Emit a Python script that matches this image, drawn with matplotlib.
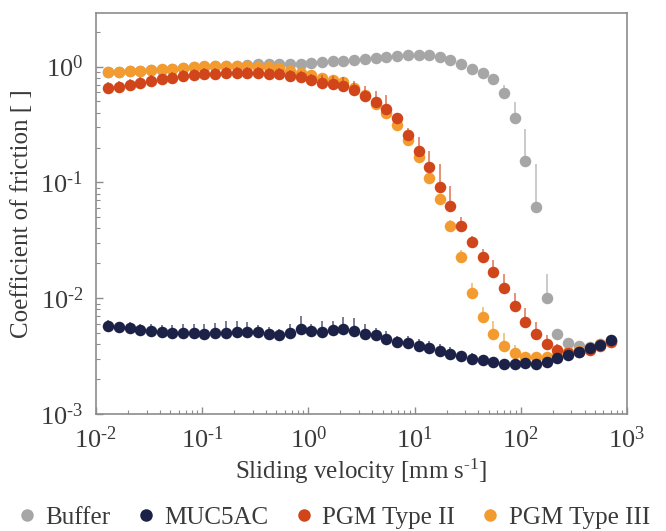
import matplotlib
matplotlib.use("Agg")
import matplotlib.pyplot as plt
from matplotlib.lines import Line2D
import numpy as np

plt.rcParams['font.family'] = ['Liberation Serif', 'DejaVu Serif']
plt.rcParams['mathtext.fontset'] = 'custom'
plt.rcParams['mathtext.rm'] = 'Liberation Serif'
plt.rcParams['mathtext.it'] = 'Liberation Serif:italic'

# sliding velocity [mm/s]
velocity = [0.0131, 0.0165, 0.0208, 0.0262, 0.0330, 0.0416, 0.0525, 0.0662, 0.0834, 0.105,
            0.133, 0.167, 0.211, 0.266, 0.335, 0.423, 0.533, 0.672, 0.848, 1.07,
            1.35, 1.70, 2.14, 2.70, 3.41, 4.30, 5.42, 6.83, 8.61, 10.9,
            13.7, 17.3, 21.8, 27.5, 34.6, 43.7, 55.1, 69.4, 87.5, 110,
            139, 176, 221, 279, 352, 444, 560, 706]

buffer_mu = [0.89, 0.90, 0.91, 0.92, 0.93, 0.94, 0.95, 0.97, 0.99, 1.00,
             1.01, 1.01, 1.02, 1.03, 1.05, 1.05, 1.05, 1.055, 1.062, 1.076,
             1.091, 1.113, 1.127, 1.143, 1.166, 1.189, 1.220, 1.245, 1.262, 1.269,
             1.262, 1.220, 1.143, 1.045, 0.958, 0.882, 0.778, 0.596, 0.363, 0.154,
             0.0618, 0.0101, 0.00489, 0.00414, 0.0039, 0.0038, 0.0040, 0.0043]
buffer_err = [0] * 36 + [0.03, 0.099, 0.136, 0.135, 0.0815, 0.0061] + [0] * 6

muc5ac_mu = [0.0058, 0.0056, 0.0055, 0.0053, 0.0052, 0.0051, 0.0050, 0.0050, 0.0050, 0.0049,
             0.0050, 0.0050, 0.0051, 0.0051, 0.0051, 0.0049, 0.0048, 0.0050, 0.0054, 0.0052,
             0.0051, 0.0053, 0.0054, 0.0052, 0.0049, 0.0048, 0.0044, 0.0042, 0.0041, 0.0039,
             0.0037, 0.0035, 0.0033, 0.0032, 0.0030, 0.0029, 0.0028, 0.0027, 0.0027, 0.00275,
             0.0027, 0.00284, 0.00303, 0.00324, 0.00344, 0.0037, 0.00397, 0.00436]
muc5ac_err = [0.00074, 0.00067, 0.0007, 0.00071, 0.00077, 0.0008, 0.00083, 0.00095, 0.001, 0.00108,
              0.00114, 0.00131, 0.0013, 0.00108, 0.00072, 0.0007, 0.00058, 0.001, 0.00167, 0.00082,
              0.0012, 0.001, 0.00155, 0.00153, 0.00103, 0.00075, 0.00076, 0.0005, 0.00061, 0.00058,
              0.00055, 0.0005, 0.00047, 0.00022, 0.00036, 0.0002, 0.0002, 0.00015, 0.00015, 0.00015,
              0.00015, 0.00015, 0.00015, 0.00015, 0.00015, 0.00015, 0.00015, 0.00015]

pgm2_mu = [0.651, 0.672, 0.700, 0.728, 0.753, 0.778, 0.804, 0.826, 0.848, 0.865,
           0.870, 0.882, 0.882, 0.882, 0.882, 0.870, 0.865, 0.831, 0.810, 0.767,
           0.728, 0.705, 0.681, 0.625, 0.558, 0.499, 0.431, 0.363, 0.257, 0.187,
           0.137, 0.0920, 0.0631, 0.0424, 0.0306, 0.0227, 0.0170, 0.0122, 0.00859, 0.00624,
           0.00489, 0.00403, 0.00358, 0.00339, 0.0034, 0.0036, 0.0039, 0.0042]
pgm2_err = [0.078, 0.080, 0.084, 0.087, 0.090, 0.093, 0.096, 0.099, 0.10, 0.10,
            0.10, 0.11, 0.11, 0.11, 0.11, 0.10, 0.10, 0.11, 0.105, 0.10,
            0.11, 0.127, 0.133, 0.131, 0.123, 0.122, 0.138, 0.038, 0.037, 0.0615,
            0.050, 0.0513, 0.0302, 0.0083, 0.0041, 0.0038, 0.0045, 0.0040, 0.0026, 0.00195,
            0.00132, 0.00079, 0.00045, 0.0002, 0.0002, 0.0002, 0.0002, 0.0002]

pgm3_mu = [0.895, 0.905, 0.918, 0.924, 0.936, 0.949, 0.961, 0.980, 1.00, 1.014,
           1.014, 1.014, 1.014, 1.008, 0.994, 0.99, 0.97, 0.92, 0.88, 0.84,
           0.80, 0.767, 0.742, 0.651, 0.570, 0.476, 0.396, 0.316, 0.233, 0.164,
           0.109, 0.0716, 0.0424, 0.0226, 0.0112, 0.00686, 0.00492, 0.00387, 0.00335, 0.00313,
           0.00313, 0.00313, 0.0032, 0.0034, 0.0035, 0.0037, 0.0040, 0.0043]
pgm3_err = [0.07, 0.07, 0.07, 0.07, 0.075, 0.075, 0.075, 0.08, 0.08, 0.08,
            0.08, 0.08, 0.08, 0.08, 0.08, 0.08, 0.08, 0.07, 0.07, 0.07,
            0.065, 0.06, 0.06, 0.05, 0.045, 0.04, 0.03, 0.025, 0.02, 0.013,
            0.009, 0.006, 0.005, 0.0035, 0.00246, 0.00151, 0.00145, 0.00117, 0.0006, 0.00026,
            0.0001, 0.0001, 0.0001, 0.0001, 0.0001, 0.0001, 0.0001, 0.0001]

labels = ['Buffer', 'MUC5AC', 'PGM Type II', 'PGM Type III']
colors = ['#a6a6a6', '#1c2247', '#d1451a', '#f39b2f']

fig = plt.figure(figsize=(6.66, 5.31), dpi=100)
ax = fig.add_axes([0.144, 0.2203, 0.7974, 0.7552])

# drawing order: buffer at the back, MUC5AC on top
series = [
    (buffer_mu, buffer_err, colors[0], 1),
    (pgm3_mu, pgm3_err, colors[3], 2),
    (pgm2_mu, pgm2_err, colors[2], 3),
    (muc5ac_mu, muc5ac_err, colors[1], 4),
]
for mu, err, c, z in series:
    mu = np.array(mu)
    err = np.array(err)
    _, caps, bars = ax.errorbar(velocity, mu, yerr=[np.zeros_like(err), err], fmt='o', color=c,
                                ms=8.3, mew=0, ecolor=c, elinewidth=1.1, capsize=2.2,
                                capthick=1.0, zorder=z)
    for b in bars:
        b.set_alpha(0.75)
    for cp in caps:
        cp.set_alpha(0.75)

ax.set_xscale('log')
ax.set_yscale('log')
ax.set_xlim(1e-2, 1e3)
ax.set_ylim(1e-3, 2.9)

ax.set_xticks([1e-2, 1e-1, 1e0, 1e1, 1e2, 1e3])
ax.set_xticklabels([r'$10^{\text{-2}}$', r'$10^{\text{-1}}$', r'$10^{0}$', r'$10^{1}$',
                    r'$10^{2}$', r'$10^{3}$'])
ax.set_yticks([1e-3, 1e-2, 1e-1, 1e0])
ax.set_yticklabels([r'$10^{\text{-3}}$', r'$10^{\text{-2}}$', r'$10^{\text{-1}}$', r'$10^{0}$'])

for s in ax.spines.values():
    s.set_color('#8c8c8c')
    s.set_linewidth(1.2)
ax.tick_params(which='both', direction='in', top=False, right=False, color='#8c8c8c',
               labelcolor='#3a3a3a', labelsize=19)
ax.tick_params(which='major', length=5, width=1.0, pad=9)
ax.tick_params(which='minor', length=3, width=0.8)

ax.set_xlabel('Sliding velocity [mm s$^{\\text{-1}}$]', fontsize=18, color='#3a3a3a', labelpad=3)
ax.set_ylabel('Coefficient of friction [ ]', fontsize=18, color='#3a3a3a', labelpad=5)

handles = [Line2D([], [], ls='none', marker='o', ms=9, mew=0, color=c) for c in colors]
fig.legend(handles, labels, loc='center', bbox_to_anchor=(0.5, 0.025), ncol=4, frameon=False,
           fontsize=18, handletextpad=0.3, columnspacing=0.95, handlelength=0.9,
           labelcolor='#3a3a3a', borderpad=0.2)

fig.savefig('out.png', dpi=100)
